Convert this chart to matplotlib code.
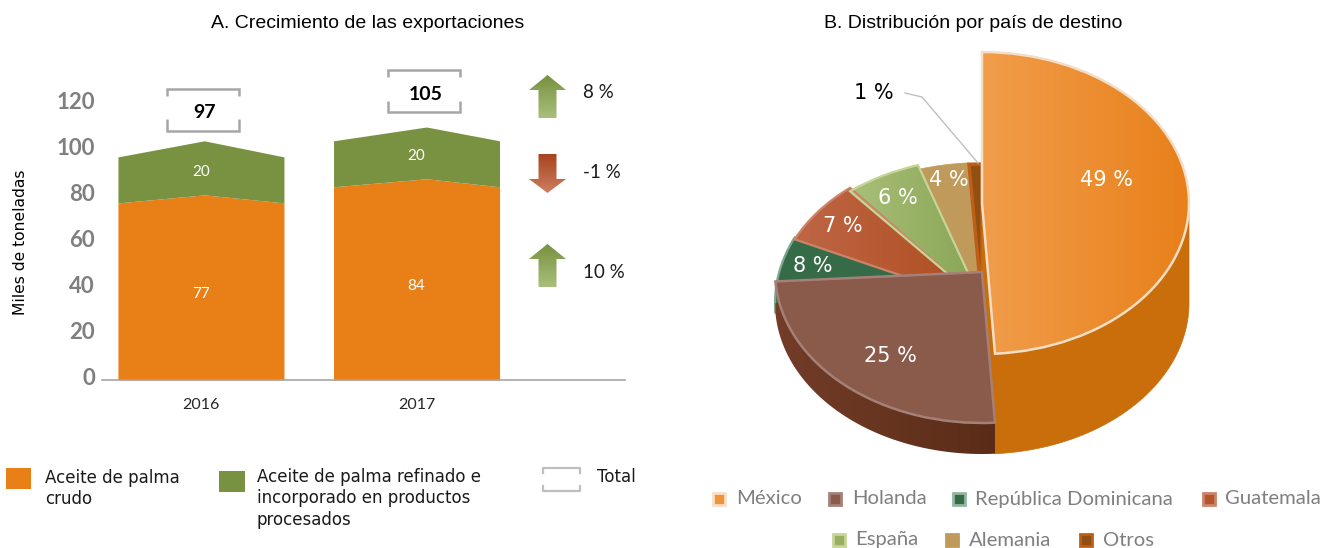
import matplotlib
matplotlib.use('Agg')
import matplotlib.pyplot as plt
import numpy as np
from matplotlib.colors import LinearSegmentedColormap
from matplotlib.patches import Polygon, Rectangle
from matplotlib.transforms import Affine2D, ScaledTranslation

W, H = 1323, 548

# left chart
years = ['2016', '2017']
crudo = [77, 84]
refinado = [20, 20]
totales = [97, 105]
pico_crudo = [3.5, 3.5]
pico_total = [7, 6]
pico_pos = [0.52, 0.56]
corchete_dx = [0.01, 0.035]
y_ticks = [0, 20, 40, 60, 80, 100, 120]
variaciones = ['8 %', '-1 %', '10 %']

# right chart
paises = ['México', 'Holanda', 'República Dominicana', 'Guatemala', 'España', 'Alemania', 'Otros']
shares = [49, 25, 8, 7, 6, 4, 1]
share_labels = ['49 %', '25 %', '8 %', '7 %', '6 %', '4 %', '1 %']

NARANJA = '#E87F17'
VERDE = '#799242'
GRIS = '#7F7F7F'


def px_axes(x0, y0, x1, y1):
    # axes placed by pixel box, y measured from the top of the image
    return fig.add_axes([x0 / W, 1 - y1 / H, (x1 - x0) / W, (y1 - y0) / H])


def grad_fill(ax, patch, c0, c1, extent, vertical=False, zorder=1):
    cmap = LinearSegmentedColormap.from_list('g', [c0, c1])
    g = np.linspace(0, 1, 256)
    g = g[:, None] if vertical else g[None, :]
    im = ax.imshow(g, cmap=cmap, extent=extent, aspect='auto', zorder=zorder, origin='upper')
    im.set_clip_path(patch)


fig = plt.figure(figsize=(W / 100, H / 100), dpi=100, facecolor='white')

# ---- A. bars
ax = px_axes(102, 60, 625, 380)
ax.set_xlim(-0.459, 1.967)
ax.set_ylim(0, 320 / 2.3)
bw = 0.77
for i in range(len(years)):
    tope = crudo[i] + refinado[i]
    x = [i - bw / 2, i - bw / 2 + bw * pico_pos[i], i + bw / 2]
    y1 = np.array([crudo[i], crudo[i] + pico_crudo[i], crudo[i]])
    y2 = np.array([tope, tope + pico_total[i], tope])
    ax.fill_between(x, 0, y1, color=NARANJA, lw=0)
    ax.fill_between(x, y1, y2, color=VERDE, lw=0)
    ax.text(i, crudo[i] / 2 - 1.2, str(crudo[i]), color='white', fontsize=11, family='Lato', ha='center', va='center')
    ax.text(i, crudo[i] + refinado[i] / 2 + 3.5, str(refinado[i]), color='white', fontsize=11, family='Lato',
            ha='center', va='center')
    # total bracket
    cx = i + corchete_dx[i]
    cy = totales[i] + 20.5
    hw, hh, tick = 0.167, 9.1, 3.0
    ax.plot([cx - hw, cx - hw, cx + hw, cx + hw], [cy + hh - tick, cy + hh, cy + hh, cy + hh - tick],
            color='#A6A6A6', lw=1.8, solid_capstyle='butt', solid_joinstyle='miter')
    ax.plot([cx - hw, cx - hw, cx + hw, cx + hw], [cy - hh + tick + 2, cy - hh, cy - hh, cy - hh + tick + 2],
            color='#A6A6A6', lw=1.8, solid_capstyle='butt', solid_joinstyle='miter')
    ax.text(cx + 0.008, cy - 1.2, str(totales[i]), color='black', fontsize=14, family='Lato', weight='bold',
            ha='center', va='center')

ax.set_xticks(range(len(years)), years, fontsize=11.5, family='Lato', color='#262626')
ax.set_yticks(y_ticks)
ax.set_yticklabels(y_ticks, fontsize=16, family='Lato', weight='bold', color=GRIS)
ax.tick_params(axis='both', length=0)
ax.tick_params(axis='x', pad=13)
ax.tick_params(axis='y', pad=5)
sube = ScaledTranslation(0, 2.5 / 72, fig.dpi_scale_trans)
for lab in ax.get_yticklabels():
    lab.set_transform(lab.get_transform() + sube)
for s in ['top', 'left', 'right']:
    ax.spines[s].set_visible(False)
ax.spines['bottom'].set_color('#A6A6A6')
ax.spines['bottom'].set_linewidth(1.2)
ax.patch.set_alpha(0)

# ---- B. 3D looking pie, one unit is 207 px across and 151 px down
pie_cx, pie_cy, rx, ry = 982, 303, 207, 151
p0, p1, p2, p3 = 760, 30, 1210, 470
pa = px_axes(p0, p1, p2, p3)
alto_holanda = (303 - 272) / ry
alto_mexico = (303 - 203) / ry
lims_x = ((p0 - pie_cx) / rx, (p2 - pie_cx) / rx)
lims_y = ((pie_cy - p3) / ry, (pie_cy - p1) / ry)

col_top = ['none', '#8A5A4A', '#366B47', '#B4552D', '#97B060', '#C09A5B', '#914F12']
edge_top = ['#F3DFC8', '#A58078', '#7FA88F', '#CC8468', '#C6D596', '#C09A5B', '#BD5F17']
lw_top = [1.8, 1.8, 1.6, 1.6, 1.6, 0.5, 2.5]
# back slices get flatter towards the far side
aplana = [1, 1, 1.02, 0.99, 0.96, 0.93, 0.92]

acum = np.cumsum([0] + shares)
ang = 90 - 3.6 * acum


def arco(a, b, cy, n=80):
    t = np.radians(np.linspace(a, b, n))
    return np.column_stack([np.cos(t), cy + np.sin(t)])


pa.set_xlim(*lims_x)
pa.set_ylim(*lims_y)

# back slices lie at the base level
back, _ = pa.pie(shares, center=(0, 0), startangle=90, counterclock=False, radius=1,
                 colors=col_top, wedgeprops={'zorder': 2})
for i, w in enumerate(back):
    w.set_zorder(3)
    w.set_edgecolor(edge_top[i])
    w.set_linewidth(lw_top[i])
    w.set_transform(Affine2D().scale(1, aplana[i]) + pa.transData)
    if i < 2:
        w.set_visible(False)
grad_fill(pa, back[3], '#C0694A', '#AE4C1E', (-1, 0, 0, 1.1), zorder=3.1)
grad_fill(pa, back[4], '#A9C078', '#88A456', (-0.65, 0, 0, 1.1), zorder=3.1)
back[3].set_facecolor('none')
back[4].set_facecolor('none')
for i in (3, 4):
    back[i].set_zorder(3.2)

# walls
MURO = '#C96E0A'
muro_m = np.vstack([arco(0, ang[1], alto_mexico), arco(ang[1], 0, 0)])
pa.add_patch(Polygon(muro_m, closed=True, fc=MURO, ec=MURO, lw=0.5, zorder=4))
cara_m = np.array([[0, alto_mexico], muro_m[79], arco(ang[1], ang[1], 0, 2)[0], [0, 0]])
pa.add_patch(Polygon(cara_m, closed=True, fc=MURO, ec=MURO, lw=0.5, zorder=4))
muro_h = Polygon(np.vstack([arco(ang[1], ang[2], alto_holanda), arco(ang[2], ang[1], 0)]),
                 closed=True, fc='none', ec='none', zorder=4)
pa.add_patch(muro_h)
grad_fill(pa, muro_h, '#733D28', '#5A2C18', (-1, 0.07, -1, 0), zorder=4)

# Holanda top
top_h, _ = pa.pie(shares[1:2] + [100 - shares[1]], center=(0, alto_holanda), startangle=ang[1],
                  counterclock=False, colors=[col_top[1], 'none'])
top_h[0].set_zorder(5)
top_h[0].set_edgecolor(edge_top[1])
top_h[0].set_linewidth(lw_top[1])
top_h[1].set_visible(False)

# México top
top_m, _ = pa.pie(shares[:1] + [100 - shares[0]], center=(0, alto_mexico), startangle=90,
                  counterclock=False, colors=['none', 'none'])
top_m[0].set_zorder(6.1)
top_m[0].set_edgecolor(edge_top[0])
top_m[0].set_linewidth(lw_top[0])
top_m[1].set_visible(False)
grad_fill(pa, top_m[0], '#F19D4B', '#E8801A', (0, 1, -0.5, 2), zorder=6)

pa.set_aspect('auto')
pa.set_xlim(*lims_x)
pa.set_ylim(*lims_y)
pa.axis('off')

# ---- texts and keys, placed in pixel positions
ov = fig.add_axes([0, 0, 1, 1])
ov.set_xlim(0, W)
ov.set_ylim(H, 0)
ov.axis('off')
ov.patch.set_alpha(0)

ov.text(368, 23.5, 'A. Crecimiento de las exportaciones', family='Liberation Sans', fontsize=14, ha='center', va='center')
ov.text(973, 23.5, 'B. Distribución por país de destino', family='Liberation Sans', fontsize=14, ha='center', va='center')
ov.text(21, 242, 'Miles de toneladas', family='DejaVu Sans', fontsize=11.2, rotation=90, ha='center', va='center')


def flecha(top, head, bot, up, c0, c1):
    xc, hw, sw = 547.5, 18.5, 9
    if up:
        pts = [(xc, top), (xc + hw, head), (xc + sw, head), (xc + sw, bot), (xc - sw, bot), (xc - sw, head), (xc - hw, head)]
    else:
        pts = [(xc - sw, top), (xc + sw, top), (xc + sw, head), (xc + hw, head), (xc, bot), (xc - hw, head), (xc - sw, head)]
    pol = Polygon(pts, closed=True, fc='none', ec='none')
    ov.add_patch(pol)
    grad_fill(ov, pol, c0, c1, (xc - hw, xc + hw, bot, top), vertical=True, zorder=2)


flecha(75, 90, 118, True, '#76913E', '#AABF7C')
flecha(154, 179, 193, False, '#A9431E', '#CC7F60')
flecha(244, 259, 287, True, '#76913E', '#AABF7C')
ov.set_xlim(0, W)
ov.set_ylim(H, 0)
for txt, yy in zip(variaciones, [92, 173, 273]):
    ov.text(583, yy, txt, family='Lato', fontsize=13.5, ha='left', va='center', color='#1A1A1A')

# left legend
ov.add_patch(Rectangle((6, 468), 25, 21, fc=NARANJA, ec='none'))
ov.add_patch(Rectangle((219, 471), 26, 21, fc=VERDE, ec='none'))
for txt, xx, yy in [('Aceite de palma', 45, 478), ('crudo', 45, 499),
                    ('Aceite de palma refinado e', 257, 477), ('incorporado en productos', 257, 498),
                    ('procesados', 257, 520), ('Total', 597, 477)]:
    ov.text(xx, yy, txt, family='DejaVu Sans', fontsize=12, ha='left', va='center', color='#1A1A1A')
ov.plot([543, 543, 580, 580], [473, 468, 468, 473], color='#BFBFBF', lw=1.6)
ov.plot([543, 543, 580, 580], [486, 491, 491, 486], color='#BFBFBF', lw=1.6)

# right legend
leg_col = ['#F0943A', '#8A5A4A', '#366B47', '#B4552D', '#97B060', '#C09A5B', '#914F12']
leg_edge = ['#F8DFC6', '#A58078', '#95B5A1', '#CC8468', '#C6D596', '#C09A5B', '#BD5F17']
leg_x = [713, 829, 953, 1203, 833, 946, 1080]
leg_y = [499, 499, 499, 499, 540, 540, 540]
leg_tx = [736, 852, 975, 1225, 855, 969, 1103]
for i in range(len(paises)):
    ov.add_patch(Rectangle((leg_x[i], leg_y[i] - 6), 12, 12, fc=leg_col[i], ec=leg_edge[i], lw=2))
    ov.text(leg_tx[i], leg_y[i], paises[i], family='Lato', fontsize=14.6, color=GRIS, ha='left', va='center')

# pie labels
lab_x = [1107, 890, 813, 843, 898, 949, 874]
lab_y = [180.5, 355.5, 266.5, 225.5, 198.5, 180.5, 93]
for i in range(len(share_labels)):
    c = 'black' if i == 6 else 'white'
    ov.text(lab_x[i], lab_y[i], share_labels[i], family='DejaVu Sans', fontsize=15, color=c, ha='center', va='center', zorder=8)
ov.plot([905, 922, 978], [93, 97, 163], color='#BFBFBF', lw=1)

fig.savefig('out.png', dpi=100)
